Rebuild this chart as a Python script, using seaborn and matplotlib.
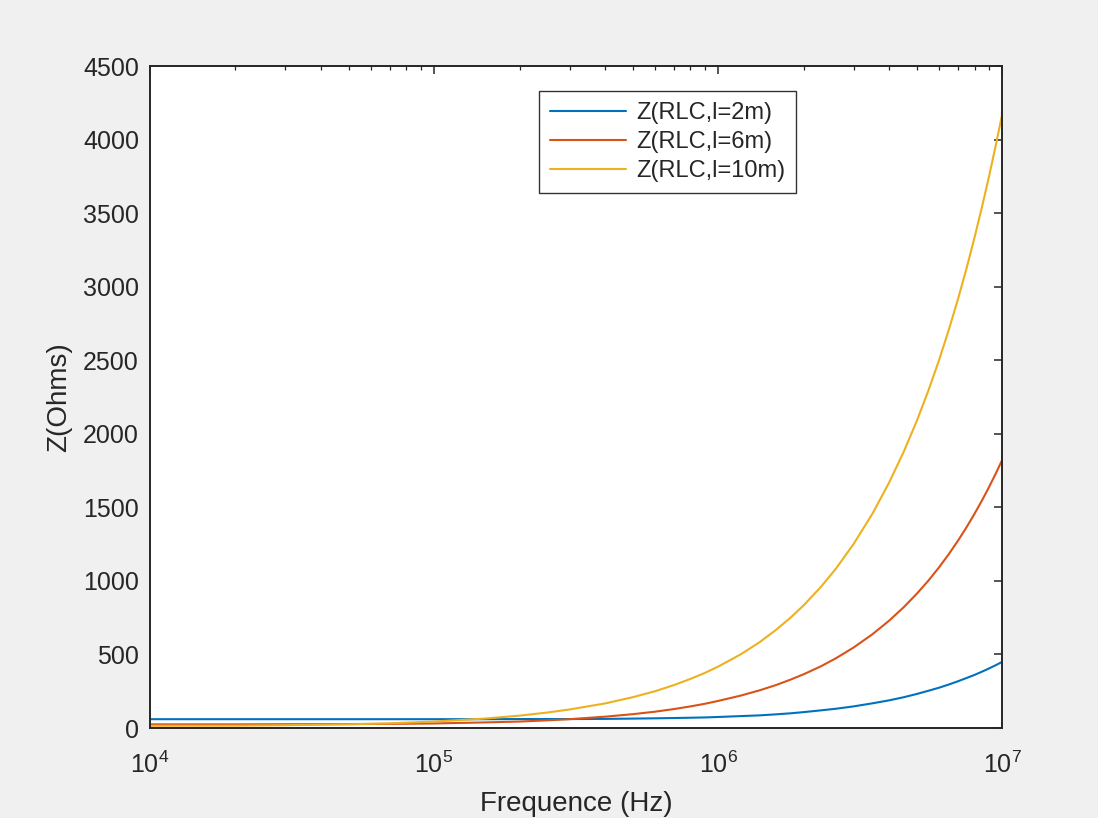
import numpy as np
import pandas as pd
import matplotlib
matplotlib.use("Agg")
import matplotlib.pyplot as plt
import seaborn as sns
from matplotlib.ticker import LogLocator, NullFormatter

freq = [1e4, 2e4, 3e4, 5e4, 7e4, 1e5, 1.5e5, 2e5, 2.5e5, 3e5, 4e5, 5e5,
        6e5, 7e5, 8e5, 9e5, 1e6, 1.2e6, 1.4e6, 1.6e6, 1.8e6, 2e6, 2.3e6,
        2.6e6, 3e6, 3.5e6, 4e6, 4.5e6, 5e6, 5.5e6, 6e6, 6.5e6, 7e6, 7.5e6,
        8e6, 8.5e6, 9e6, 9.5e6, 1e7]

# Impedance readings (Ohms)
z_2m = [60, 60, 60, 60, 60, 60, 60, 61, 61, 61, 62, 64,
        66, 68, 70, 72, 75, 81, 86, 93, 100, 108, 120,
        131, 147, 168, 188, 209, 231, 253, 274, 296, 318, 340,
        361, 383, 405, 427, 449]
z_6m = [25, 25, 26, 27, 28, 31, 38, 44, 52, 60, 77, 94,
        111, 129, 147, 165, 184, 220, 256, 292, 329, 365, 419,
        474, 547, 638, 729, 820, 911, 1001, 1092, 1183, 1274, 1365,
        1456, 1547, 1638, 1729, 1820]
z_10m = [15, 16, 19, 25, 32, 44, 64, 84, 105, 126, 167, 209,
         250, 292, 334, 375, 417, 500, 583, 667, 750, 833, 958,
         1083, 1250, 1458, 1667, 1875, 2083, 2292, 2500, 2709, 2917, 3125,
         3334, 3542, 3750, 3959, 4167]

labels = ["Z(RLC,l=2m)", "Z(RLC,l=6m)", "Z(RLC,l=10m)"]
colors = ["#0072BD", "#D95319", "#EDB120"]

df = pd.concat([
    pd.DataFrame({"f": freq, "z": z, "serie": lab})
    for z, lab in zip([z_2m, z_6m, z_10m], labels)
])

sns.set_theme(style="white")
plt.rcParams["font.family"] = ["Liberation Sans", "DejaVu Sans"]
plt.rcParams["mathtext.fontset"] = "custom"
plt.rcParams["mathtext.rm"] = "Liberation Sans"
plt.rcParams["mathtext.it"] = "Liberation Sans"

fig = plt.figure(figsize=(10.98, 8.18), dpi=100, facecolor="#F0F0F0")
ax = fig.add_axes([0.1366, 0.110, 0.776, 0.8093])

sns.lineplot(data=df, x="f", y="z", hue="serie", palette=colors,
             linewidth=1.5, ax=ax, legend=True)

ax.set_xscale("log")
ax.set_xlim(1e4, 1e7)
ax.set_ylim(0, 4500)
ax.set_yticks(np.arange(0, 4501, 500))
ax.xaxis.set_minor_locator(LogLocator(base=10, subs=np.arange(2, 10)))
ax.xaxis.set_minor_formatter(NullFormatter())

for s in ax.spines.values():
    s.set_color("#262626")
    s.set_linewidth(1.4)
ax.tick_params(which="both", direction="in", top=True, right=True,
               colors="#262626")
ax.tick_params(which="major", length=6, width=1.1)
ax.tick_params(which="minor", length=3, width=0.9)
ax.tick_params(axis="y", labelsize=18, pad=8)
ax.tick_params(axis="x", labelsize=18, pad=17)

ax.set_xlabel("Frequence (Hz)", fontsize=20, color="#262626", labelpad=9)
ax.set_ylabel("Z(Ohms)", fontsize=20, color="#262626", labelpad=8)

leg = ax.legend(loc="upper left", bbox_to_anchor=(0.4566, 0.962),
                fontsize=17, handlelength=3.25, handletextpad=0.4,
                frameon=True, fancybox=False, edgecolor="black",
                borderpad=0.45, labelspacing=0.3, borderaxespad=0,
                title=None)
leg.get_frame().set_linewidth(1.0)

fig.savefig("out.png", dpi=100, facecolor=fig.get_facecolor())
